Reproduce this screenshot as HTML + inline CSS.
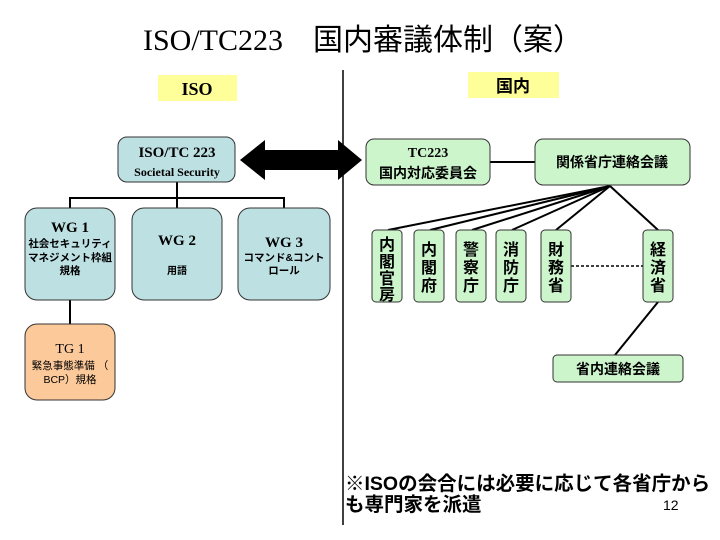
<!DOCTYPE html>
<html><head><meta charset="utf-8"><style>
html,body{margin:0;padding:0;background:#fff;}
svg{display:block}
.s{font-family:"Liberation Serif","Noto Serif CJK SC",serif;}
.g{font-family:"Liberation Sans","Noto Sans CJK JP",sans-serif;}
</style></head><body>
<svg width="720" height="540" viewBox="0 0 720 540" xmlns="http://www.w3.org/2000/svg">
<rect width="720" height="540" fill="#fff"/>
<text x="143" y="50" class="s" font-size="30" fill="#000">ISO/TC223　<tspan font-family="Noto Sans CJK JP,sans-serif">国内審議体制（案）</tspan></text>
<rect x="158" y="75" width="79" height="26" fill="#ffff99"/>
<text x="197" y="95" text-anchor="middle" class="s" font-weight="bold" font-size="18">ISO</text>
<rect x="468" y="72" width="91" height="26" fill="#ffff99"/>
<text x="513" y="92" text-anchor="middle" class="g" font-weight="bold" font-size="17">国内</text>
<line x1="343" y1="70" x2="343" y2="525" stroke="#000" stroke-width="1.5"/>
<!-- left tree lines -->
<g stroke="#000" stroke-width="2" fill="none">
<path d="M177 182 V198 M70 208 V198 H284 V208 M177 198 V208 M70 300 V324"/>
</g>
<polygon points="240,160 265,140 265,150 338,150 338,140 362,160 338,180 338,170 265,170 265,180" fill="#000"/>
<g stroke="#333" stroke-width="1" fill="#bde0e2">
<rect x="118" y="137" width="117" height="45" rx="9"/>
<rect x="25" y="208" width="90" height="92" rx="12"/>
<rect x="132" y="208" width="90" height="92" rx="12"/>
<rect x="238" y="208" width="92" height="92" rx="12"/>
</g>
<rect x="25" y="324" width="90" height="76" rx="12" fill="#fcc99a" stroke="#333"/>
<text x="177" y="157" text-anchor="middle" class="s" font-weight="bold" font-size="15">ISO/TC 223</text>
<text x="177" y="176" text-anchor="middle" class="s" font-weight="bold" font-size="12">Societal Security</text>
<text x="70" y="232" text-anchor="middle" class="s" font-weight="bold" font-size="15">WG 1</text>
<text x="70" y="247" text-anchor="middle" class="g" font-weight="bold" font-size="10.5">社会セキュリティ</text>
<text x="70" y="261" text-anchor="middle" class="g" font-weight="bold" font-size="10.5">マネジメント枠組</text>
<text x="70" y="274" text-anchor="middle" class="g" font-weight="bold" font-size="10.5">規格</text>
<text x="177" y="245" text-anchor="middle" class="s" font-weight="bold" font-size="15">WG 2</text>
<text x="177" y="274" text-anchor="middle" class="g" font-weight="bold" font-size="10">用語</text>
<text x="284" y="247" text-anchor="middle" class="s" font-weight="bold" font-size="15">WG 3</text>
<text x="284" y="261" text-anchor="middle" class="g" font-weight="bold" font-size="10.5">コマンド&amp;コント</text>
<text x="284" y="274" text-anchor="middle" class="g" font-weight="bold" font-size="10.5">ロール</text>
<text x="70" y="353" text-anchor="middle" class="s" font-size="14">TG 1</text>
<text x="70" y="369" text-anchor="middle" class="g" font-size="10.5">緊急事態準備 （</text>
<text x="70" y="383" text-anchor="middle" class="g" font-size="10.5">BCP）規格</text>
<!-- right lines -->
<g stroke="#000" stroke-width="2" fill="none">
<line x1="490" y1="162" x2="535" y2="162"/>
<line x1="610" y1="186" x2="388" y2="230"/>
<line x1="610" y1="186" x2="430" y2="230"/>
<line x1="610" y1="186" x2="472" y2="230"/>
<line x1="610" y1="186" x2="512" y2="230"/>
<line x1="610" y1="186" x2="556" y2="230"/>
<line x1="610" y1="186" x2="658" y2="230"/>
<line x1="658" y1="302" x2="615" y2="355"/>
<line x1="571" y1="266" x2="643" y2="266" stroke-dasharray="3,2" stroke-width="1.5"/>
</g>
<g stroke="#333" stroke-width="1" fill="#ccf5cc">
<rect x="366" y="139" width="124" height="46" rx="8"/>
<rect x="535" y="139" width="155" height="46" rx="8"/>
<rect x="372" y="230" width="30" height="72" rx="4"/>
<rect x="414" y="230" width="30" height="72" rx="4"/>
<rect x="456" y="230" width="30" height="72" rx="4"/>
<rect x="496" y="230" width="30" height="72" rx="4"/>
<rect x="541" y="230" width="30" height="72" rx="4"/>
<rect x="643" y="230" width="30" height="72" rx="4"/>
<rect x="553" y="355" width="130" height="27" rx="4"/>
</g>
<text x="428" y="157" text-anchor="middle" class="s" font-weight="bold" font-size="14">TC223</text>
<text x="428" y="178" text-anchor="middle" class="g" font-weight="bold" font-size="14">国内対応委員会</text>
<text x="612" y="167" text-anchor="middle" class="g" font-weight="bold" font-size="14">関係省庁連絡会議</text>
<g class="g" font-weight="bold" font-size="16" text-anchor="middle">
<text x="387" y="250">内</text><text x="387" y="267">閣</text><text x="387" y="284">官</text><text x="387" y="300">房</text>
<text x="429" y="255">内</text><text x="429" y="273">閣</text><text x="429" y="291">府</text>
<text x="471" y="255">警</text><text x="471" y="273">察</text><text x="471" y="291">庁</text>
<text x="511" y="255">消</text><text x="511" y="273">防</text><text x="511" y="291">庁</text>
<text x="556" y="255">財</text><text x="556" y="273">務</text><text x="556" y="291">省</text>
<text x="658" y="255">経</text><text x="658" y="273">済</text><text x="658" y="291">省</text>
</g>
<text x="618" y="374" text-anchor="middle" class="g" font-weight="bold" font-size="14">省内連絡会議</text>
<text x="345" y="490" class="g" font-weight="bold" font-size="19.5">※ISOの会合には必要に応じて各省庁から</text>
<text x="345" y="511" class="g" font-weight="bold" font-size="19.5">も専門家を派遣</text>
<text x="663" y="510" class="g" font-size="14">12</text>
</svg>
</body></html>
